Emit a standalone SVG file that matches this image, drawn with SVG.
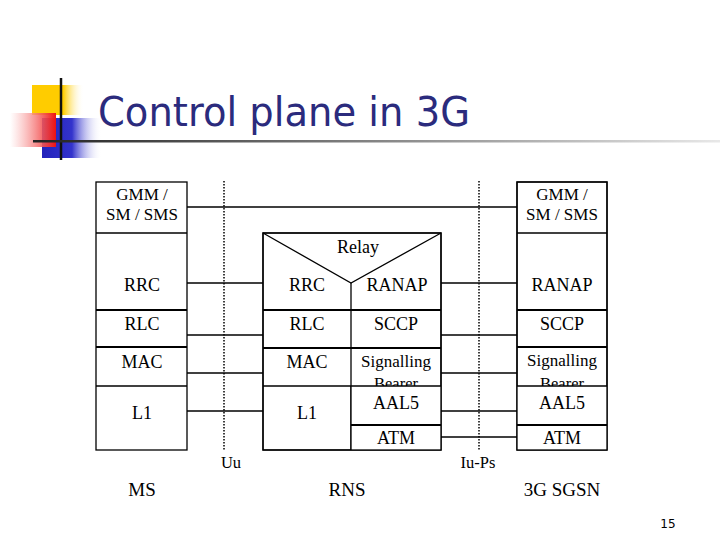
<svg xmlns="http://www.w3.org/2000/svg" width="720" height="540" viewBox="0 0 720 540">
<defs>
<linearGradient id="redg" x1="0" x2="1" y1="0" y2="0"><stop offset="0" stop-color="#ffffff" stop-opacity="0.6"/><stop offset="1" stop-color="#ee1111"/></linearGradient>
<linearGradient id="blueg" x1="0" x2="1" y1="0" y2="0"><stop offset="0" stop-color="#2222bb"/><stop offset="0.5" stop-color="#3333cc"/><stop offset="1" stop-color="#ffffff" stop-opacity="0"/></linearGradient>
<linearGradient id="yellowg" x1="0" x2="1" y1="0" y2="0"><stop offset="0" stop-color="#ffcc00"/><stop offset="0.6" stop-color="#ffcc00"/><stop offset="1" stop-color="#ffffff" stop-opacity="0"/></linearGradient>
<linearGradient id="lineg" x1="0" x2="1" y1="0" y2="0"><stop offset="0" stop-color="#222222"/><stop offset="1" stop-color="#e8e8e8"/></linearGradient>
<style>
.box{fill:#ffffff;stroke:#000;stroke-width:1.3}
.div{stroke:#000;stroke-width:2;fill:none}
.ln{stroke:#000;stroke-width:1.3;fill:none}
.dot{stroke:#000;stroke-width:1.5;stroke-dasharray:1.5 1.5;fill:none}
.t{font-family:"Liberation Serif","Times New Roman",serif;font-size:18px;fill:#000;text-anchor:middle}
.t1{font-family:"Liberation Serif","Times New Roman",serif;font-size:17px;fill:#000;text-anchor:middle}
.t2{font-family:"Liberation Serif","Times New Roman",serif;font-size:16.5px;fill:#000;text-anchor:middle}
.t3{font-family:"Liberation Serif","Times New Roman",serif;font-size:19px;fill:#000;text-anchor:middle}
</style>
</defs>
<g id="title">
<rect x="32" y="85" width="52" height="30" fill="url(#yellowg)"/>
<rect x="42" y="118" width="60" height="40" fill="url(#blueg)"/>
<rect x="10" y="113" width="46" height="34" fill="url(#redg)"/>
<line x1="61" y1="78" x2="61" y2="160" stroke="#111" stroke-width="2.5"/>
<rect x="33" y="140" width="687" height="2.5" fill="url(#lineg)"/>
<text x="98" y="126" font-family="'DejaVu Sans',Verdana,sans-serif" font-size="40" fill="#2b2b7d" textLength="372" lengthAdjust="spacingAndGlyphs">Control plane in 3G</text>
</g>
<g id="connectors">
<line class="ln" x1="187" y1="207" x2="517" y2="207"/>
<line class="ln" x1="187" y1="283" x2="263" y2="283"/>
<line class="ln" x1="187" y1="335" x2="263" y2="335"/>
<line class="ln" x1="187" y1="373" x2="263" y2="373"/>
<line class="ln" x1="187" y1="411" x2="263" y2="411"/>
<line class="ln" x1="441" y1="283" x2="517" y2="283"/>
<line class="ln" x1="441" y1="335" x2="517" y2="335"/>
<line class="ln" x1="441" y1="373" x2="517" y2="373"/>
<line class="ln" x1="441" y1="411" x2="517" y2="411"/>
<line class="ln" x1="441" y1="437" x2="517" y2="437"/>
<line class="dot" x1="224" y1="181" x2="224" y2="451"/>
<line class="dot" x1="479" y1="181" x2="479" y2="451"/>
<text class="t2" x="231" y="468">Uu</text>
<text class="t2" x="478" y="468">Iu-Ps</text>
</g>
<g id="ms">
<rect class="box" x="96" y="182" width="91" height="268"/>
<line class="ln" x1="96" y1="233" x2="187" y2="233"/>
<line class="div" x1="96" y1="310" x2="187" y2="310"/>
<line class="div" x1="96" y1="347" x2="187" y2="347"/>
<line class="ln" x1="96" y1="386" x2="187" y2="386"/>
<text class="t1" x="142" y="200">GMM /</text>
<text class="t1" x="142" y="220">SM / SMS</text>
<text class="t" x="142" y="291">RRC</text>
<text class="t" x="142" y="330">RLC</text>
<text class="t" x="142" y="368">MAC</text>
<text class="t" x="142" y="419">L1</text>
<text class="t3" x="142" y="496">MS</text>
</g>
<g id="rns">
<rect class="box" x="263" y="233" width="178" height="217"/>
<polyline class="ln" points="263,233 351,283 441,233"/>
<line class="ln" x1="351" y1="283" x2="351" y2="450"/>
<line class="div" x1="263" y1="310" x2="441" y2="310"/>
<line class="div" x1="263" y1="348" x2="441" y2="348"/>
<text class="t" x="358" y="253">Relay</text>
<text class="t" x="307" y="291">RRC</text>
<text class="t" x="397" y="291">RANAP</text>
<text class="t" x="307" y="330">RLC</text>
<text class="t" x="396" y="330">SCCP</text>
<text class="t" x="307" y="368">MAC</text>
<text class="t1" x="396" y="367">Signalling</text>
<text class="t2" x="396" y="389">Bearer</text>
<rect x="351" y="386" width="90" height="64" fill="#fff"/>
<line class="ln" x1="263" y1="386" x2="441" y2="386"/>
<line class="div" x1="351" y1="425" x2="441" y2="425"/>
<rect x="263" y="233" width="178" height="217" fill="none" stroke="#000" stroke-width="1.3"/>
<line class="ln" x1="351" y1="386" x2="351" y2="450"/>
<text class="t" x="307" y="419">L1</text>
<text class="t" x="396" y="409">AAL5</text>
<text class="t" x="396" y="444">ATM</text>
<text class="t3" x="347" y="496">RNS</text>
</g>
<g id="sgsn">
<rect class="box" x="517" y="182" width="90" height="268"/>
<line class="ln" x1="517" y1="233" x2="607" y2="233"/>
<line class="div" x1="517" y1="310" x2="607" y2="310"/>
<line class="div" x1="517" y1="347" x2="607" y2="347"/>
<text class="t1" x="562" y="200">GMM /</text>
<text class="t1" x="562" y="220">SM / SMS</text>
<text class="t" x="562" y="291">RANAP</text>
<text class="t" x="562" y="330">SCCP</text>
<text class="t1" x="562" y="366">Signalling</text>
<text class="t2" x="562" y="389">Bearer</text>
<rect x="517" y="386" width="90" height="64" fill="#fff"/>
<line class="ln" x1="517" y1="386" x2="607" y2="386"/>
<line class="div" x1="517" y1="425" x2="607" y2="425"/>
<rect x="517" y="182" width="90" height="268" fill="none" stroke="#000" stroke-width="1.3"/>
<text class="t" x="562" y="409">AAL5</text>
<text class="t" x="562" y="444">ATM</text>
<text class="t3" x="562" y="496">3G SGSN</text>
</g>
<text x="668" y="528" font-family="'DejaVu Sans',sans-serif" font-size="12" fill="#000" text-anchor="middle">15</text>
</svg>
